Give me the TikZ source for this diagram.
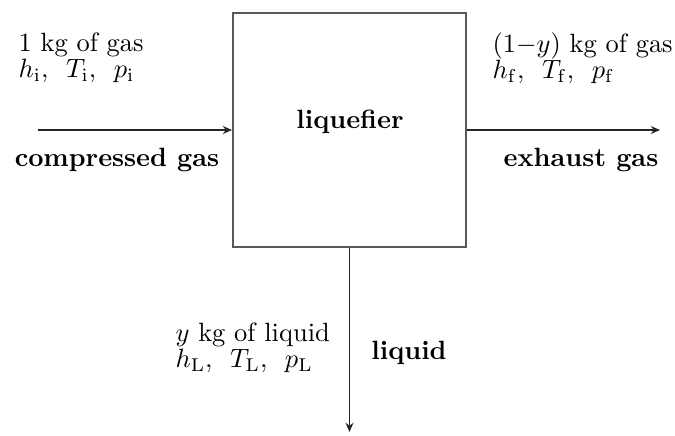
\documentclass[tikz,border=0pt]{standalone}
\usepackage{amsmath}
\usetikzlibrary{arrows.meta, positioning}
\tikzset{
  fluxo/.style={-{Stealth[length=3.5pt, width=3pt]}, line width=0.5pt, black!85},
  rotulo/.style={align=left, inner sep=0pt, anchor=west},
  titulo/.style={font=\bfseries}
}

\begin{document}
\begin{tikzpicture}[x=0.378pt, y=0.378pt]
  \useasboundingbox (0,0) rectangle (675,435);
  % caixa do liquefator
  \node[draw=black!65, line width=0.8pt, minimum width=88pt, minimum height=88.5pt,
        inner sep=0pt] (liq) at (349.5,305) {};
  \node[titulo] (tliq) at (350,313) {liquefier};
  % entrada
  \coordinate (ent) at (38,305);
  \draw[fluxo] (ent) -- (liq.west);
  \node[rotulo] (ein) at (18,377)
    {1 kg of gas\\[-2pt] $h_{\mathrm{i}},\ \,T_{\mathrm{i}},\ \,p_{\mathrm{i}}$};
  \node[titulo] (tcomp) at (117,275) {compressed gas};
  % sa\'ida de g\'as
  \coordinate (sai) at (660,305);
  \draw[fluxo] (liq.east) -- (sai);
  \node[rotulo] (eout) at (492,377)
    {$(1{-}y)$ kg of gas\\[-2pt] $h_{\mathrm{f}},\ \,T_{\mathrm{f}},\ \,p_{\mathrm{f}}$};
  \node[titulo] (texh) at (581,275) {exhaust gas};
  % l\'iquido
  \coordinate (fundo) at (liq.south |- 0,3);
  \draw[fluxo] (liq.south) -- (fundo);
  \node[rotulo] (eliq) at (175,87)
    {$y$ kg of liquid\\[-2pt] $h_{\mathrm{L}},\ \,T_{\mathrm{L}},\ \,p_{\mathrm{L}}$};
  \node[titulo] (tliquido) at (409,82) {liquid};
\end{tikzpicture}
\end{document}
